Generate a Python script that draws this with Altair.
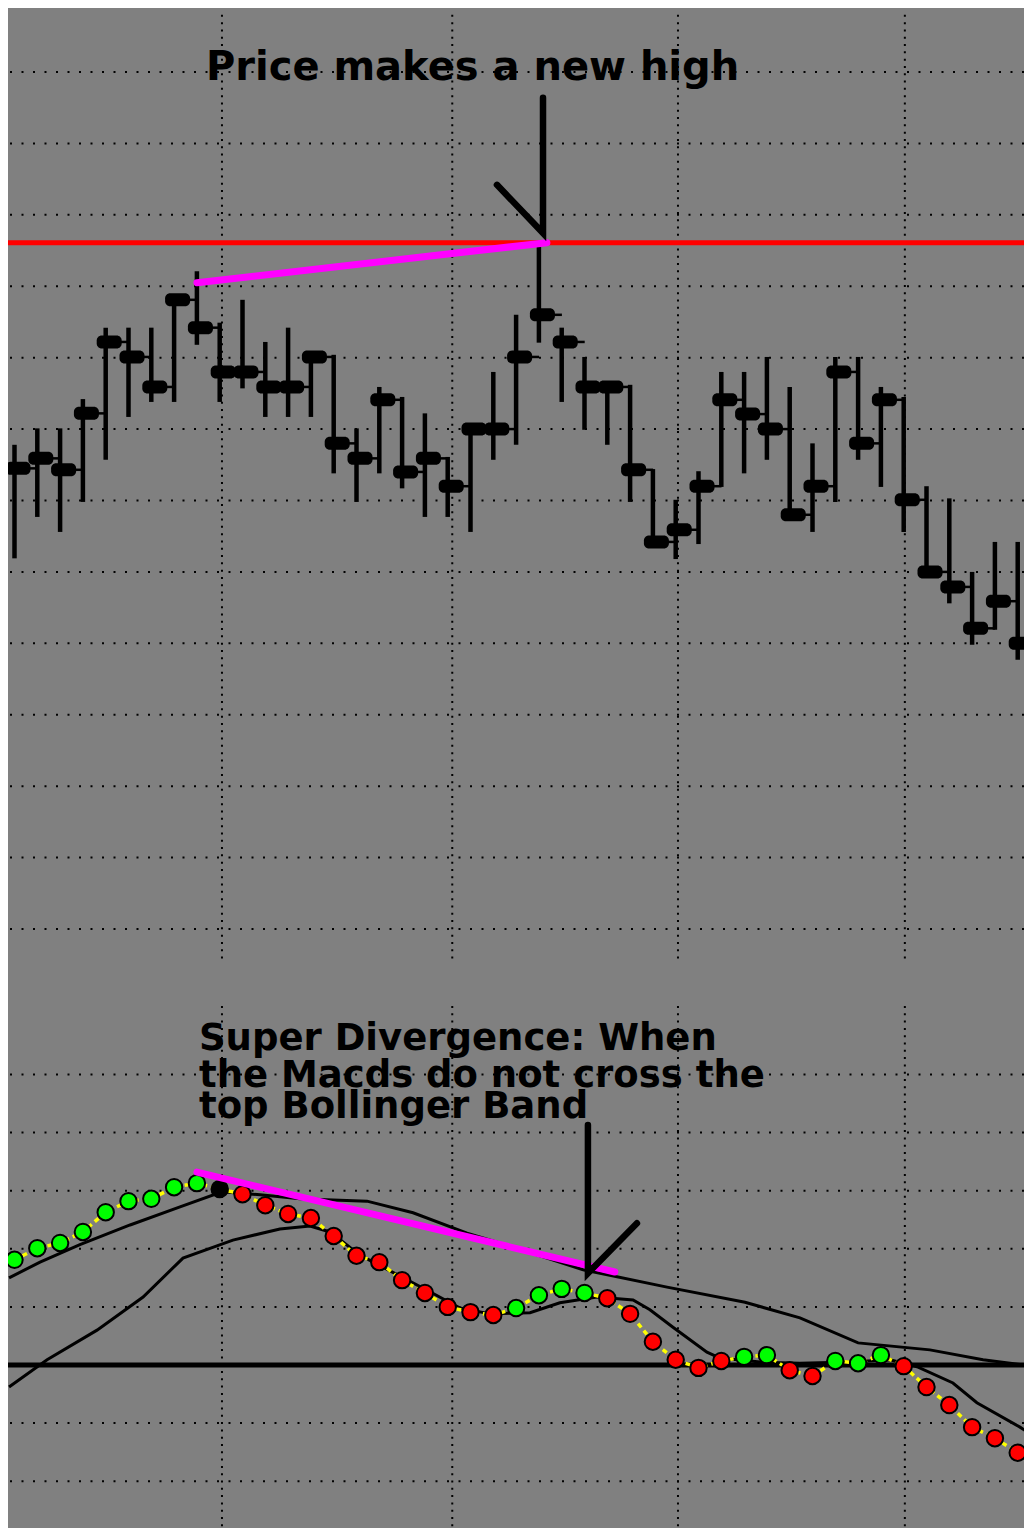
import altair as alt
import pandas as pd

# ---------------- price panel data (bar number 0 = first bar on the left) ----------------
bars = list(range(45))
high = [26.78, 27.01, 27.01, 27.42, 28.42, 28.42, 28.42, 28.89, 29.21, 28.49,
        28.81, 28.22, 28.42, 28.04, 28.04, 27.01, 27.59, 27.45, 27.22, 26.61,
        27.01, 27.80, 28.60, 29.61, 28.42, 28.01, 27.64, 27.62, 26.44, 26.01,
        26.41, 27.80, 27.80, 28.01, 27.59, 26.80, 28.01, 28.01, 27.59, 27.45,
        26.20, 26.03, 25.00, 25.42, 25.42]
low = [25.19, 25.77, 25.56, 25.98, 26.57, 27.17, 27.38, 27.38, 28.18, 27.38,
       27.57, 27.17, 27.17, 27.17, 26.38, 25.98, 26.38, 26.17, 25.77, 25.77,
       25.56, 26.57, 26.78, 28.21, 27.38, 26.99, 26.78, 25.98, 25.38, 25.18,
       25.39, 26.19, 26.38, 26.57, 25.80, 25.56, 25.98, 26.57, 26.19, 25.56,
       25.00, 24.56, 23.98, 24.19, 23.77]
close = [26.45, 26.59, 26.43, 27.22, 28.22, 28.01, 27.59, 28.81, 28.42, 27.80,
         27.80, 27.59, 27.59, 28.01, 26.80, 26.59, 27.41, 26.40, 26.59, 26.20,
         27.00, 27.00, 28.01, 28.60, 28.22, 27.59, 27.59, 26.43, 25.42, 25.59,
         26.20, 27.41, 27.21, 27.00, 25.80, 26.20, 27.80, 26.80, 27.41, 26.01,
         25.00, 24.79, 24.21, 24.59, 24.00]

resistance_level = [29.61]
price_div_x = [8.0, 23.35]
price_div_y = [29.05, 29.61]
price_arrow_x = [21.16, 23.18, 23.18]
price_arrow_y = [30.42, 29.745, 31.64]
price_note = ["Price makes a new high"]
price_note_x = [20.09]
price_note_y = [31.887]
price_grid = [20, 21, 22, 23, 24, 25, 26, 27, 28, 29, 30, 31, 32]
price_vgrid_top = [32.80]
price_vgrid_bottom = [19.524]

# ---------------- MACD panel data ----------------
macd = [0.181, 0.201, 0.210, 0.229, 0.263, 0.282, 0.286, 0.306, 0.313, 0.303,
        0.294, 0.275, 0.260, 0.253, 0.222, 0.188, 0.177, 0.146, 0.124, 0.100,
        0.091, 0.086, 0.098, 0.120, 0.131, 0.124, 0.115, 0.088, 0.040, 0.009,
        -0.005, 0.007, 0.014, 0.017, -0.009, -0.019, 0.007, 0.003, 0.017, -0.002,
        -0.038, -0.069, -0.107, -0.126, -0.151]
macd_state = ["G", "G", "G", "G", "G", "G", "G", "G", "G", "K",
              "R", "R", "R", "R", "R", "R", "R", "R", "R", "R",
              "R", "R", "G", "G", "G", "G", "R", "R", "R", "R",
              "R", "R", "G", "G", "R", "R", "G", "G", "G", "R",
              "R", "R", "R", "R", "R"]

upper_band_x = [-0.24, 1.12, 2.87, 5.07, 7.26, 9.10, 10.77, 12.52, 13.97, 15.46,
                17.48, 19.85, 21.86, 24.94, 28.62, 32.04, 34.45, 37.0, 40.15, 42.48, 44.63]
upper_band_y = [0.150, 0.177, 0.207, 0.241, 0.272, 0.298, 0.293, 0.286, 0.284, 0.282,
                0.262, 0.227, 0.203, 0.164, 0.134, 0.108, 0.081, 0.038, 0.026, 0.009, -0.002]

signal_x = [-0.24, 1.43, 3.62, 5.64, 7.39, 9.58, 11.64, 12.96, 13.84, 15.15,
            16.91, 18.22, 19.54, 20.86, 22.61, 23.92, 25.55, 27.13, 27.87, 28.88,
            30.37, 30.94, 32.7, 34.45, 36.64, 38.4, 39.58, 41.16, 42.21, 44.10, 44.63]
signal_y = [-0.038, 0.009, 0.060, 0.117, 0.184, 0.215, 0.234, 0.239, 0.229, 0.189,
            0.153, 0.126, 0.098, 0.088, 0.090, 0.107, 0.117, 0.112, 0.095, 0.065,
            0.022, 0.012, 0.005, 0.003, 0.005, 0.009, -0.003, -0.031, -0.065, -0.107, -0.120]

macd_div_x = [8.0, 26.33]
macd_div_y = [0.332, 0.160]
macd_arrow_x = [27.3, 25.15, 25.15]
macd_arrow_y = [0.244, 0.158, 0.413]
macd_note = ["Super Divergence: When", "the Macds do not cross the", "top Bollinger Band"]
macd_note_x = [8.09, 8.09, 8.09]
macd_note_y = [0.542, 0.4785, 0.4251]
macd_grid = [-0.2, -0.1, 0.1, 0.2, 0.3, 0.4, 0.5]
macd_vgrid_top = [0.6179]
macd_vgrid_bottom = [-0.2806]
zero_level = [0.0]

time_grid = [9.1, 19.2, 29.1, 39.05]

# ---------------- scales (two stacked panels in one canvas) ----------------
W, H = 1016, 1520
xs = alt.Scale(domain=[-0.285, 44.276], nice=False, zero=False)
ys_price = alt.Scale(domain=[19.524, 32.896], range=[955, 0], nice=False, zero=False)
ys_macd = alt.Scale(domain=[-0.2806, 0.6179], range=[1520, 998], nice=False, zero=False)

GRAY = "#808080"
FONT = "DejaVu Sans"


def X(f):
    return alt.X(f, type="quantitative", scale=xs, axis=None)


def YP(f):
    return alt.Y(f, type="quantitative", scale=ys_price, axis=None)


def YM(f):
    return alt.Y(f, type="quantitative", scale=ys_macd, axis=None)


# ---------------- price panel ----------------
price_df = pd.DataFrame({"bar": bars, "high": high, "low": low, "close": close})

p_hgrid = alt.Chart(pd.DataFrame({"p": price_grid})).mark_rule(
    color="black", strokeWidth=2, strokeDash=[2, 9.5]).encode(y=YP("p"))
p_vgrid = alt.Chart(pd.DataFrame({"t": time_grid, "a": price_vgrid_top * 4,
                                  "b": price_vgrid_bottom * 4})).mark_rule(
    color="black", strokeWidth=2, strokeDash=[2, 5.3]).encode(x=X("t"), y=YP("a"), y2="b")
wicks = alt.Chart(price_df).mark_rule(color="black", strokeWidth=4.5).encode(
    x=X("bar"), y=YP("low"), y2="high")
blobs = alt.Chart(price_df).mark_tick(
    orient="horizontal", color="black", size=25, thickness=13, xOffset=3.5,
    cornerRadius=5, opacity=1).encode(x=X("bar"), y=YP("close"))
rticks = alt.Chart(price_df).mark_tick(
    orient="horizontal", color="black", size=8, thickness=2.5, xOffset=19,
    opacity=1).encode(x=X("bar"), y=YP("close"))
red_line = alt.Chart(pd.DataFrame({"p": resistance_level})).mark_rule(
    color="#FF0000", strokeWidth=5).encode(y=YP("p"))
p_div = alt.Chart(pd.DataFrame({"x": price_div_x, "y": price_div_y})).mark_line(
    color="#FF00FF", strokeWidth=7, strokeCap="round").encode(x=X("x"), y=YP("y"))
p_arrow = alt.Chart(pd.DataFrame({"x": price_arrow_x, "y": price_arrow_y, "o": [0, 1, 2]})).mark_line(
    color="black", strokeWidth=6.5, strokeCap="round", strokeJoin="miter").encode(
    x=X("x"), y=YP("y"), order="o:Q")
p_text = alt.Chart(pd.DataFrame({"x": price_note_x, "y": price_note_y, "t": price_note})).mark_text(
    font=FONT, fontWeight="bold", fontSize=40, align="center", baseline="alphabetic",
    color="black").encode(x=X("x"), y=YP("y"), text="t:N")

price_panel = alt.layer(p_hgrid, p_vgrid, wicks, blobs, rticks, red_line, p_div,
                        p_arrow, p_text)

# ---------------- MACD panel ----------------
macd_df = pd.DataFrame({"bar": bars, "macd": macd, "state": macd_state})

m_hgrid = alt.Chart(pd.DataFrame({"m": macd_grid})).mark_rule(
    color="black", strokeWidth=2, strokeDash=[2, 9.5]).encode(y=YM("m"))
m_vgrid = alt.Chart(pd.DataFrame({"t": time_grid, "a": macd_vgrid_top * 4,
                                  "b": macd_vgrid_bottom * 4})).mark_rule(
    color="black", strokeWidth=2, strokeDash=[2, 5.3]).encode(x=X("t"), y=YM("a"), y2="b")
zero_line = alt.Chart(pd.DataFrame({"m": zero_level})).mark_rule(
    color="black", strokeWidth=5).encode(y=YM("m"))
upper_line = alt.Chart(pd.DataFrame({"x": upper_band_x, "y": upper_band_y})).mark_line(
    color="black", strokeWidth=3).encode(x=X("x"), y=YM("y"))
sig_line = alt.Chart(pd.DataFrame({"x": signal_x, "y": signal_y})).mark_line(
    color="black", strokeWidth=3).encode(x=X("x"), y=YM("y"))
yellow = alt.Chart(macd_df).mark_line(color="#FFFF00", strokeWidth=3.5, strokeDash=[5, 4]).encode(
    x=X("bar"), y=YM("macd"))
dots = alt.Chart(macd_df).mark_point(
    shape="circle", filled=True, size=270, stroke="black", strokeWidth=2, opacity=1).encode(
    x=X("bar"), y=YM("macd"),
    fill=alt.Fill("state:N", scale=alt.Scale(domain=["G", "R", "K"],
                                             range=["#00FF00", "#FF0000", "#000000"]),
                  legend=None))
m_div = alt.Chart(pd.DataFrame({"x": macd_div_x, "y": macd_div_y})).mark_line(
    color="#FF00FF", strokeWidth=7, strokeCap="round").encode(x=X("x"), y=YM("y"))
m_arrow = alt.Chart(pd.DataFrame({"x": macd_arrow_x, "y": macd_arrow_y, "o": [0, 1, 2]})).mark_line(
    color="black", strokeWidth=6.5, strokeCap="round", strokeJoin="miter").encode(
    x=X("x"), y=YM("y"), order="o:Q")
m_text = alt.Chart(pd.DataFrame({"x": macd_note_x, "y": macd_note_y, "t": macd_note})).mark_text(
    font=FONT, fontWeight="bold", fontSize=37, align="left", baseline="alphabetic",
    color="black").encode(x=X("x"), y=YM("y"), text="t:N")

macd_panel = alt.layer(m_hgrid, m_vgrid, zero_line, upper_line, sig_line, yellow, dots,
                       m_div, m_arrow, m_text)

chart = alt.layer(price_panel, macd_panel).resolve_scale(y="independent").properties(
    width=W, height=H, padding=0, background=GRAY,
    autosize=alt.AutoSizeParams(type="none")
).configure_view(stroke=None, fill=GRAY)

chart.save("out.html", embed_options={"renderer": "svg", "actions": False})
